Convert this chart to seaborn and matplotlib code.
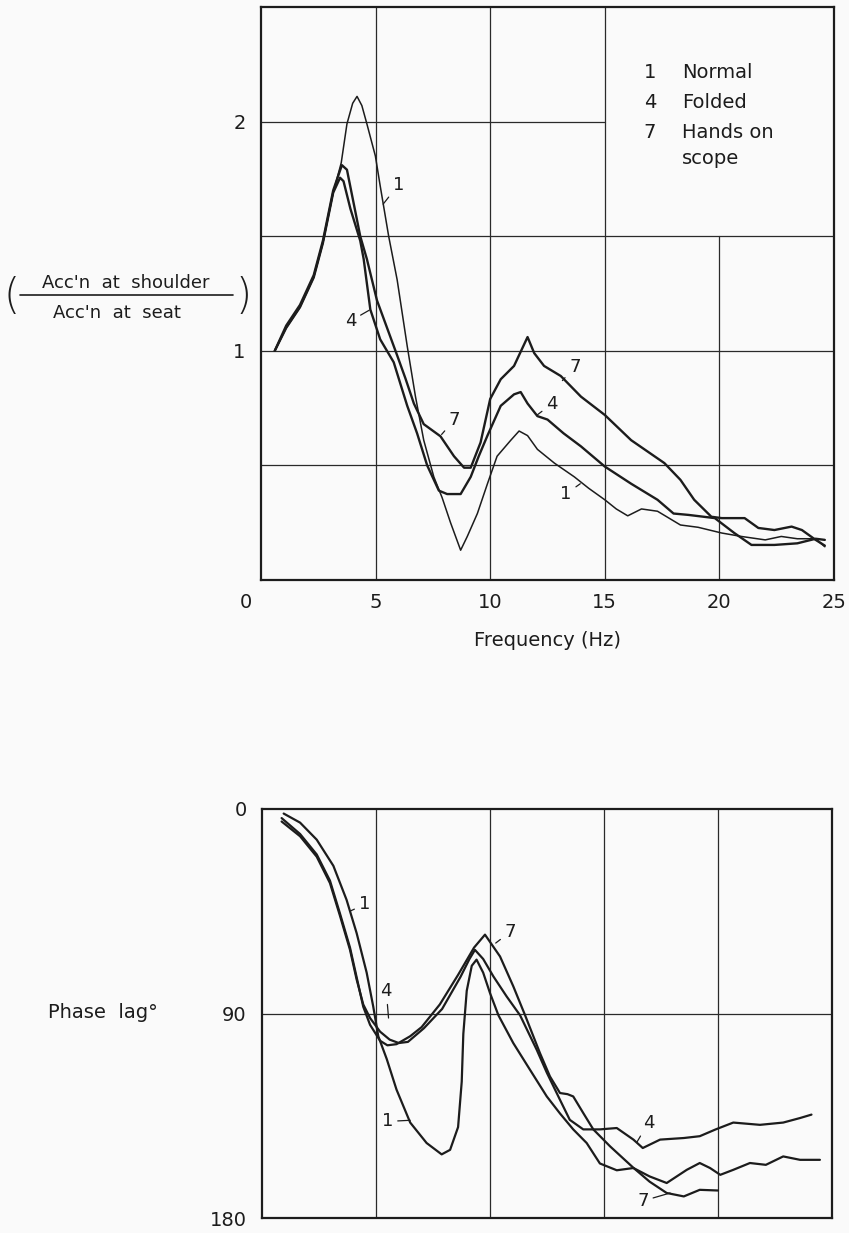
import matplotlib
matplotlib.use("Agg")
import matplotlib.pyplot as plt
import seaborn as sns
import pandas as pd
from matplotlib.lines import Line2D
from matplotlib.transforms import ScaledTranslation

# ---------------- data ----------------
curve_ids = ["1", "4", "7"]
legend_names = ["Normal", "Folded", "Hands on\nscope"]

# amplitude ratio (Acc'n at shoulder / Acc'n at seat)
amp_f_1 = [0.6, 1.1, 1.7, 2.3, 2.7, 3.15, 3.5, 3.75, 4.0, 4.19, 4.4, 4.62, 4.99, 5.2, 5.57,
           5.94, 6.38, 6.74, 7.1, 7.54, 7.9, 8.27, 8.71, 9.0, 9.44, 9.88, 10.3, 10.9, 11.26,
           11.63, 12.06, 12.8, 13.67, 14.3, 15.0, 15.5, 16.0, 16.6, 17.3, 18.3, 19.07, 20.1,
           20.96, 22.0, 22.7, 23.4, 24.2, 24.6]
amp_v_1 = [1.00, 1.10, 1.19, 1.32, 1.47, 1.69, 1.82, 1.99, 2.08, 2.11, 2.07, 1.99, 1.85, 1.72,
           1.50, 1.31, 1.02, 0.80, 0.61, 0.45, 0.36, 0.25, 0.13, 0.19, 0.29, 0.42, 0.54, 0.61,
           0.65, 0.63, 0.57, 0.51, 0.45, 0.40, 0.35, 0.31, 0.28, 0.31, 0.30, 0.24, 0.23, 0.205,
           0.19, 0.175, 0.19, 0.18, 0.18, 0.145]

amp_f_4 = [0.6, 1.1, 1.7, 2.3, 2.7, 3.15, 3.45, 3.6, 3.9, 4.33, 4.48, 4.77, 5.2, 5.79, 6.1,
           6.38, 6.81, 7.25, 7.76, 8.12, 8.71, 9.15, 9.5, 9.88, 10.46, 11.04, 11.33, 11.63,
           12.06, 12.5, 13.2, 13.96, 15.0, 16.15, 17.3, 18.0, 18.65, 19.8, 20.65, 21.4, 22.4,
           23.4, 24.2, 24.6]
amp_v_4 = [1.00, 1.10, 1.19, 1.32, 1.47, 1.69, 1.755, 1.74, 1.62, 1.48, 1.40, 1.18, 1.05,
           0.95, 0.85, 0.76, 0.64, 0.50, 0.39, 0.375, 0.375, 0.45, 0.54, 0.63, 0.76, 0.81,
           0.82, 0.77, 0.715, 0.70, 0.64, 0.583, 0.495, 0.42, 0.35, 0.29, 0.284, 0.27, 0.205,
           0.153, 0.153, 0.16, 0.18, 0.175]

amp_f_7 = [0.6, 1.1, 1.7, 2.3, 2.7, 3.15, 3.53, 3.75, 4.33, 4.62, 5.06, 5.5, 5.94, 6.3, 6.67,
           7.1, 7.83, 8.42, 8.86, 9.15, 9.58, 10.0, 10.46, 11.04, 11.63, 11.92, 12.35, 13.08,
           13.96, 15.0, 16.15, 17.6, 18.3, 18.9, 19.65, 20.1, 21.1, 21.7, 22.4, 23.15, 23.6,
           24.2, 24.6]
amp_v_7 = [1.00, 1.11, 1.20, 1.33, 1.48, 1.70, 1.81, 1.79, 1.50, 1.40, 1.22, 1.10, 0.98, 0.88,
           0.77, 0.68, 0.627, 0.54, 0.49, 0.49, 0.60, 0.79, 0.876, 0.934, 1.06, 0.99, 0.934,
           0.89, 0.80, 0.72, 0.61, 0.51, 0.437, 0.35, 0.276, 0.27, 0.27, 0.227, 0.218, 0.233,
           0.218, 0.175, 0.15]

# phase lag (degrees)
ph_f_1 = [0.95, 1.67, 2.4, 3.13, 3.71, 4.15, 4.59, 4.88, 5.1, 5.47, 5.9, 6.5, 7.22, 7.88, 8.25,
          8.6, 8.76, 8.83, 8.98, 9.2, 9.41, 9.7, 10.0, 10.37, 11.02, 11.75, 12.49, 13.07, 13.65,
          14.24, 14.82, 15.56, 16.29, 17.0, 17.75, 18.63, 19.2, 19.65, 20.1, 20.67, 21.4, 22.1,
          22.86, 23.6, 24.47]
ph_v_1 = [2, 6, 13.5, 25, 40, 54.6, 72, 87, 100, 110, 123.5, 138, 147, 152, 150, 140, 120, 99,
          80, 69, 66.3, 72, 81, 90.8, 103, 114.7, 126.5, 134, 141, 147, 156, 159, 158, 161.7,
          164.6, 158.8, 155.8, 158, 161, 158.8, 155.8, 156.6, 152.9, 154.4, 154.4]

ph_f_4 = [0.86, 1.67, 2.4, 2.98, 3.42, 3.86, 4.15, 4.44, 4.74, 5.18, 5.6, 6.0, 6.4, 7.1, 7.9,
          8.7, 9.1, 9.34, 9.7, 10.15, 10.73, 11.32, 12.05, 12.49, 13.07, 13.5, 14.09, 14.82,
          15.56, 16.29, 16.7, 17.46, 18.5, 19.2, 19.9, 20.67, 21.84, 22.86, 23.6, 24.1]
ph_v_4 = [5.5, 12, 21, 32.6, 47, 62, 75, 86, 92, 98, 101.5, 103, 102.5, 96.5, 88, 74, 66, 62,
          66, 73.7, 82.5, 90.8, 106, 116, 128, 136.8, 141, 141, 140.4, 145.5, 149.2, 145.5,
          144.8, 144, 141, 138, 139, 138, 136, 134.5]

ph_f_7 = [0.86, 1.67, 2.4, 2.98, 3.42, 3.86, 4.15, 4.44, 4.74, 5.18, 5.5, 5.9, 6.5, 7.0, 7.8,
          8.6, 9.3, 9.78, 10.44, 11.02, 11.54, 12.19, 12.63, 13.07, 13.4, 13.65, 14.09, 14.53,
          15.27, 16.3, 17.0, 17.75, 18.5, 19.2, 20.0]
ph_v_7 = [4, 11, 20, 31.5, 46, 61, 74, 87, 95, 102, 104, 103.5, 100, 96, 86, 73, 61, 55.3,
          64.9, 78, 90.8, 107.4, 117.7, 125, 125.5, 126.5, 133.8, 141, 148.5, 158, 164, 169,
          170.5, 167.6, 167.9]

x_ticks = [0, 5, 10, 15, 20, 25]
amp_yticks = [1, 2]
phase_yticks = [0, 90, 180]

# curve-number labels: (text, text_x, text_y, tip_x, tip_y)
amp_labels = [("1", 6.0, 1.725, 5.33, 1.64), ("4", 3.9, 1.13, 4.72, 1.177),
              ("7", 8.45, 0.70, 7.88, 0.635), ("7", 13.7, 0.93, 13.15, 0.87),
              ("4", 12.7, 0.77, 12.05, 0.72), ("1", 13.3, 0.375, 13.93, 0.42)]
ph_labels = [("1", 4.5, 42, 3.85, 45), ("4", 5.45, 80, 5.55, 92),
             ("7", 10.9, 54, 10.25, 59), ("1", 5.5, 137.5, 6.5, 137),
             ("4", 16.95, 138, 16.45, 146.5), ("7", 16.7, 172.5, 17.9, 169)]

# ---------------- build tables ----------------
def table(pairs):
    rows = []
    for cid, (f, v) in zip(curve_ids, pairs):
        for a, b in zip(f, v):
            rows.append({"curve": cid, "freq": a, "val": b})
    return pd.DataFrame(rows)

amp_df = table([(amp_f_1, amp_v_1), (amp_f_4, amp_v_4), (amp_f_7, amp_v_7)])
ph_df = table([(ph_f_1, ph_v_1), (ph_f_4, ph_v_4), (ph_f_7, ph_v_7)])

# ---------------- figure ----------------
sns.set_theme(style="white")
plt.rcParams["font.family"] = ["DejaVu Sans"]
INK = "#1c1c1c"
BG = "#fafafa"

W, H = 849, 1233
fig = plt.figure(figsize=(W / 100, H / 100), dpi=100, facecolor=BG)

def fx(px):
    return px / W

def fy(py):
    return 1 - py / H

ax1 = fig.add_axes([fx(261), fy(580), fx(834) - fx(261), fy(7) - fy(580)])
ax2 = fig.add_axes([fx(262), fy(1218), fx(832) - fx(262), fy(809) - fy(1218)])

amp_lw = {"1": 1.1, "4": 1.7, "7": 1.7}
for cid in curve_ids:
    sns.lineplot(data=amp_df[amp_df.curve == cid], x="freq", y="val", sort=False,
                 estimator=None, color=INK, linewidth=amp_lw[cid], ax=ax1, zorder=3)
    sns.lineplot(data=ph_df[ph_df.curve == cid], x="freq", y="val", sort=False,
                 estimator=None, color=INK, linewidth=1.6, ax=ax2, zorder=3)

for ax in (ax1, ax2):
    ax.set_facecolor(BG)
    ax.set_xlim(0, 25)
    ax.set_xlabel("")
    ax.set_ylabel("")
    for s in ax.spines.values():
        s.set_color(INK)
        s.set_linewidth(1.6)
    ax.tick_params(length=0, labelsize=14, colors=INK)

GL = dict(color="#2a2a2a", linewidth=0.9, zorder=1)

# top panel grid (partial lines around the key)
ax1.set_ylim(0, 2.5)
for yv in (0.5, 1.0, 1.5):
    ax1.axhline(yv, **GL)
ax1.axhline(2.0, xmax=0.6, **GL)
for xv in (5, 10, 15):
    ax1.axvline(xv, **GL)
ax1.axvline(20, ymax=0.6, **GL)
ax1.set_xticks(x_ticks)
ax1.set_xticklabels([str(t) for t in x_ticks])
ax1.set_yticks(amp_yticks)
ax1.set_yticklabels([str(t) for t in amp_yticks])
ax1.tick_params(axis="x", pad=9)
ax1.tick_params(axis="y", pad=11)
lab0 = ax1.get_xticklabels()[0]
lab0.set_transform(lab0.get_transform() + ScaledTranslation(-0.15, 0, fig.dpi_scale_trans))

# bottom panel grid
ax2.set_ylim(180, 0)
ax2.axhline(90, **GL)
for xv in (5, 10, 15, 20):
    ax2.axvline(xv, **GL)
ax2.set_xticks([])
ax2.set_yticks(phase_yticks)
ax2.set_yticklabels([str(t) for t in phase_yticks])
ax2.tick_params(axis="y", pad=11)

# curve number labels with leader lines
for ax, labs in ((ax1, amp_labels), (ax2, ph_labels)):
    for t, tx, ty, px, py in labs:
        ax.annotate(t, xy=(px, py), xytext=(tx, ty), fontsize=13, color=INK,
                    ha="center", va="center", zorder=4,
                    arrowprops=dict(arrowstyle="-", color=INK, lw=0.9,
                                    shrinkA=1, shrinkB=0))

# key
key_y = [72, 103, 132]
for cid, name, yk in zip(curve_ids, legend_names, key_y):
    fig.text(fx(650), fy(yk), cid, fontsize=14, ha="center", va="center", color=INK)
    for i, part in enumerate(name.split("\n")):
        fig.text(fx(682), fy(yk + 26.5 * i), part, fontsize=14, ha="left", va="center",
                 color=INK)

# axis titles
fig.text(fx(547), fy(641), "Frequency (Hz)", fontsize=14, ha="center", va="center", color=INK)
fig.text(fx(48), fy(1012), "Phase  lag\u00b0", fontsize=14, ha="left", va="center", color=INK)

fig.text(fx(126), fy(283), "Acc'n  at  shoulder", fontsize=13, ha="center", va="center",
         color=INK)
fig.add_artist(Line2D([fx(20), fx(233)], [fy(295), fy(295)], color=INK, lw=1.2,
                      transform=fig.transFigure))
fig.text(fx(117), fy(313), "Acc'n  at  seat", fontsize=13, ha="center", va="center",
         color=INK)
fig.text(fx(12), fy(297), "(", fontsize=30, ha="center", va="center", color=INK,
         fontweight="light")
fig.text(fx(244), fy(297), ")", fontsize=30, ha="center", va="center", color=INK,
         fontweight="light")

fig.savefig("out.png", dpi=100, facecolor=BG)
